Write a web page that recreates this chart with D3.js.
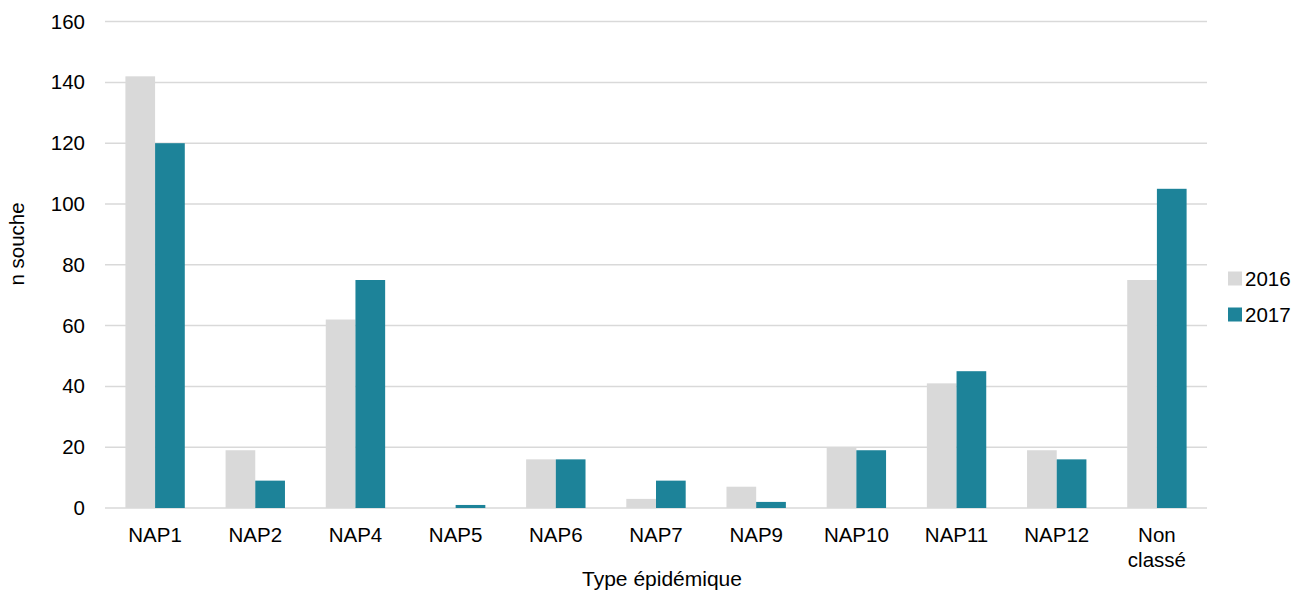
<!DOCTYPE html>
<html>
<head>
<meta charset="utf-8">
<script src="https://cdn.jsdelivr.net/npm/d3@7"></script>
<style>
  html, body { margin: 0; padding: 0; background: #fff; }
  svg { display: block; }
  text { font-family: "Liberation Sans", Arial, Helvetica, sans-serif; fill: #000; }
</style>
</head>
<body>
<svg id="chart" width="1304" height="593"></svg>
<script>
const categories = ["NAP1", "NAP2", "NAP4", "NAP5", "NAP6", "NAP7", "NAP9", "NAP10", "NAP11", "NAP12", "Non classé"];
const seriesNames = ["2016", "2017"];
const values2016 = [142, 19, 62, 0, 16, 3, 7, 20, 41, 19, 75];
const values2017 = [120, 9, 75, 1, 16, 9, 2, 19, 45, 16, 105];
const yTicks = [0, 20, 40, 60, 80, 100, 120, 140, 160];
const colors = ["#d9d9d9", "#1d8399"];

const seriesValues = [values2016, values2017];
const data = categories.map((c, i) => ({ cat: c, vals: seriesNames.map((s, j) => ({ s, v: seriesValues[j][i] })) }));

const svg = d3.select("#chart");
const mLeft = 105, mRight = 1207, mTop = 21.6, mBottom = 508;

const x = d3.scaleBand().domain(categories).range([mLeft, mRight]).paddingInner(0).paddingOuter(0);
const x1 = d3.scaleBand().domain(seriesNames).range([0, x.bandwidth()]).paddingInner(0).paddingOuter(0.687);
const y = d3.scaleLinear().domain([0, 160]).range([mBottom, mTop]);

// gridlines
svg.append("g").selectAll("line").data(yTicks).join("line")
  .attr("x1", mLeft).attr("x2", mRight)
  .attr("y1", d => y(d)).attr("y2", d => y(d))
  .attr("stroke", "#d9d9d9").attr("stroke-width", 1.5);

// y axis labels
const yAxis = d3.axisLeft(y).tickValues(yTicks).tickSize(0).tickPadding(0);
const gy = svg.append("g").attr("transform", `translate(85,0)`).call(yAxis);
gy.select(".domain").remove();
gy.selectAll("text").style("font-size", "20.5px").style("font-family", "Liberation Sans, Arial, sans-serif").attr("fill", "#000");

// bars
const groups = svg.append("g").selectAll("g").data(data).join("g")
  .attr("transform", d => `translate(${x(d.cat)},0)`);
groups.selectAll("rect").data(d => d.vals).join("rect")
  .attr("x", d => x1(d.s))
  .attr("width", x1.bandwidth())
  .attr("y", d => y(d.v))
  .attr("height", d => mBottom - y(d.v))
  .attr("fill", (d, i) => colors[i]);

// x axis labels
const xAxis = d3.axisBottom(x).tickSize(0).tickPadding(0);
const gx = svg.append("g").attr("transform", `translate(0,${mBottom})`).call(xAxis);
gx.select(".domain").remove();
gx.selectAll("text").remove();
gx.selectAll(".tick").each(function(d) {
  const t = d3.select(this).append("text")
    .attr("text-anchor", "middle")
    .style("font-size", "20.5px")
    .attr("fill", "#000");
  const parts = d === "Non classé" ? ["Non", "classé"] : [d];
  parts.forEach((p, k) => {
    t.append("tspan").attr("x", 0).attr("y", 34 + k * 25).text(p);
  });
});

// axis titles
svg.append("text").attr("x", 662).attr("y", 586).attr("text-anchor", "middle")
  .style("font-size", "21px").text("Type épidémique");
svg.append("text").attr("transform", `translate(24,244) rotate(-90)`)
  .attr("text-anchor", "middle").style("font-size", "20.5px").text("n souche");

// legend
const legend = svg.append("g").selectAll("g").data(seriesNames).join("g")
  .attr("transform", (d, i) => `translate(1228,${278.5 + i * 36})`);
legend.append("rect").attr("x", 0).attr("y", -7).attr("width", 14).attr("height", 14)
  .attr("fill", (d, i) => colors[i]);
legend.append("text").attr("x", 17).attr("y", 7.5).style("font-size", "20.5px").text(d => d);
</script>
</body>
</html>
